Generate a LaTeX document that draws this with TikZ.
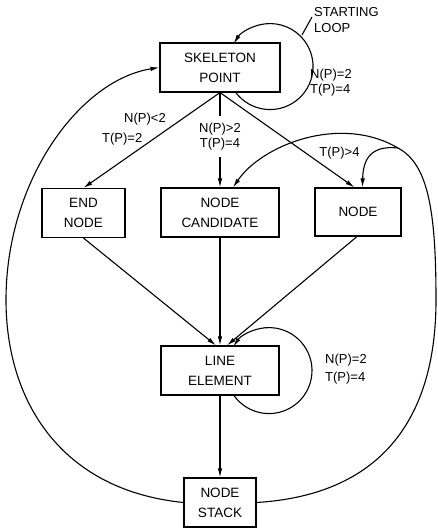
\documentclass[tikz,border=0pt]{standalone}
\usepackage{fontspec}
\setmainfont{Liberation Sans}
\usetikzlibrary{arrows.meta,calc}
\begin{document}
\begin{tikzpicture}[x=1pt,y=-1pt,
  box/.style={draw,line width=1.1pt,minimum height=49pt,align=center,inner sep=0pt,font=\fontsize{13.5}{20}\selectfont},
  lbl/.style={font=\fontsize{13}{15}\selectfont,inner sep=1pt},
  conn/.style={line width=1.1pt},
  arr/.style={conn,-{Latex[length=9pt,width=4.5pt]}}]
\useasboundingbox (0,0) rectangle (437,530);
% boxes
\node[box,minimum width=120pt] (sp) at (220,67.5) {SKELETON\\POINT};
\node[box,minimum width=83pt] (en) at (83.5,213) {END\\NODE};
\node[box,minimum width=118pt] (nc) at (220,212.5) {NODE\\CANDIDATE};
\node[box,minimum width=86pt,minimum height=48pt] (nd) at (358,212) {NODE};
\node[box,minimum width=118pt] (le) at (220,370.5) {LINE\\ELEMENT};
\node[box,minimum width=72pt] (ns) at (220,502.5) {NODE\\STACK};
% labels
\node[lbl,anchor=west] (l1a) at (123,119) {N(P)<2};
\node[lbl,anchor=west] (l1b) at (101,139) {T(P)=2};
\node[lbl] (l3) at (339.5,153) {T(P)>4};
\node[lbl,anchor=west,align=left] (l4) at (309,82.5) {N(P)=2\\T(P)=4};
\node[lbl,anchor=west,align=left,font=\fontsize{13}{18}\selectfont] (l5) at (324,369) {N(P)=2\\T(P)=4};
\node[lbl,anchor=west,align=left,font=\fontsize{13}{16}\selectfont] (st) at (313,20) {STARTING\\LOOP};
\draw[conn] ($(st.west)+(-11,15)$) -- ($(st.west)+(-1,-3)$);
% edges from skeleton point
\draw[arr] (sp.south) -- (en.north);
\draw[arr] (sp.south) -- node[lbl,fill=white,align=center,pos=0.46,inner ysep=7pt] (l2) {N(P)>2\\T(P)=4} (nc.north);
\draw[arr] (sp.south) -- ($(nd.north)+(-3.5,0)$);
% loops
\draw[arr] ($(sp.south)+(15.8,0)$) arc[start angle=142.8,end angle=-147.7,radius=43];
\draw[arr] ($(le.south)+(14,0)$) arc[start angle=144.5,end angle=-146.1,radius=43];
% converging
\draw[arr] (en.south) -- ($(le.north)+(-4,0)$);
\draw[arr] (nc.south) -- (le.north);
\draw[arr] ($(nd.south)+(-1,0)$) -- ($(le.north)+(7,0)$);
\draw[arr] (le.south) -- (ns.north);
% outer returns
\draw[arr] (ns.west) .. controls (60,490) and (6,400) .. (6,300) .. controls (6,180) and (80,80) .. (sp.west);
\coordinate (j) at (398,148);
\draw[conn] (ns.east) .. controls (380,495) and (436,420) .. (436,300) .. controls (436,210) and (428,164) .. (j);
\draw[arr] (j) .. controls (340,114) and (262,145) .. ($(nc.north)+(13,0)$);
\draw[arr] (j) .. controls (370,145) and (363,160) .. ($(nd.north)+(4.5,0)$);
\end{tikzpicture}
\end{document}
